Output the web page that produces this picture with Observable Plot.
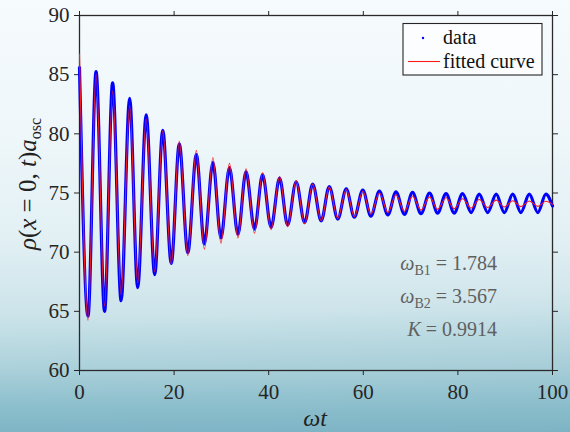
<!DOCTYPE html>
<html>
<head>
<meta charset="utf-8">
<script src="https://cdn.jsdelivr.net/npm/d3@7"></script>
<script src="https://cdn.jsdelivr.net/npm/@observablehq/plot@0.6"></script>
<style>
  html, body { margin: 0; padding: 0; }
  body {
    width: 570px; height: 432px; overflow: hidden;
    background:
      linear-gradient(176deg, rgba(255,255,255,0) 70%, rgba(120,175,192,0.35) 100%),
      linear-gradient(180deg, #f6fbfd 0%, #eff7fa 30%, #e2f0f4 55%, #cde4ea 72%, #b2d5de 85%, #92c3d0 94%, #80b7c7 100%);
  }
  #chart { position: absolute; left: 0; top: 0; }
</style>
</head>
<body>
<div id="chart"></div>
<script>
// ---- data (extrema of the oscillation) ----
const times = [0, 1.8, 3.5, 5.3, 7.0, 8.8, 10.6, 12.3, 14.1, 15.9, 17.6, 19.4, 21.1, 22.9, 24.7, 26.4, 28.2, 29.9,
  31.7, 33.5, 35.2, 37.0, 38.7, 40.5, 42.3, 44.0, 45.8, 47.6, 49.3, 51.1, 52.8, 54.6, 56.4, 58.1, 59.9, 61.6,
  63.4, 65.2, 66.9, 68.7, 70.4, 72.2, 74.0, 75.7, 77.5, 79.2, 81.0, 82.8, 84.5, 86.3, 88.1, 89.8, 91.6, 93.3,
  95.1, 96.9, 98.6, 100];
const dataValues = [85.6, 64.6, 85.25, 65.0, 84.3, 65.9, 83.0, 67.0, 81.6, 68.1, 80.3, 69.05, 79.15, 69.95, 78.25, 70.7, 77.6, 71.2,
  77.15, 71.5, 76.8, 71.95, 76.55, 72.1, 76.25, 72.3, 75.95, 72.5, 75.75, 72.65, 75.55, 72.8, 75.35, 72.95, 75.25, 73.05,
  75.15, 73.15, 75.1, 73.2, 75.05, 73.25, 75.0, 73.3, 74.95, 73.3, 74.95, 73.35, 74.9, 73.35, 74.9, 73.35, 74.9, 73.35,
  74.9, 73.35, 74.9, 73.9];
const fitValues = [86.75, 64.25, 85.05, 65.45, 83.6, 66.4, 82.4, 67.4, 81.25, 68.35, 80.25, 69.0, 79.4, 69.7, 78.6, 70.25, 78.0, 70.75,
  77.5, 71.2, 77.05, 71.6, 76.7, 71.9, 76.4, 72.15, 76.05, 72.4, 75.75, 72.65, 75.5, 72.85, 75.3, 73.0, 75.15, 73.2,
  75.0, 73.35, 74.85, 73.45, 74.75, 73.55, 74.67, 73.62, 74.6, 73.68, 74.52, 73.73, 74.45, 73.78, 74.4, 73.82, 74.35, 73.85,
  74.32, 73.87, 74.3, 74.05];
const xTicks = [0, 20, 40, 60, 80, 100];
const yTicks = [60, 65, 70, 75, 80, 85, 90];
const params = [
  {sym: "ω", sub: "B1", val: "1.784"},
  {sym: "ω", sub: "B2", val: "3.567"},
  {sym: "K", sub: "", val: "0.9914"}
];
const legendItems = ["data", "fitted curve"];

const dataSeries = times.map((t, i) => ({t, v: dataValues[i]}));
const fitSeries = times.map((t, i) => ({t, v: fitValues[i]}));

const serif = "'Liberation Serif', 'DejaVu Serif', serif";

const chart = Plot.plot({
  width: 570,
  height: 432,
  marginLeft: 79,
  marginRight: 18,
  marginTop: 15,
  marginBottom: 62,
  style: {background: "transparent", fontFamily: serif, fontSize: "20px", color: "#262626"},
  x: {domain: [0, 100], label: null},
  y: {domain: [60, 90], label: null},
  marks: [
    Plot.frame({stroke: "#2a2a2a", strokeWidth: 1.3}),
    Plot.axisX({ticks: xTicks, tickSize: 5, tickPadding: 9, label: null, fontSize: 21, fontFamily: serif, tickFormat: d => String(d)}),
    Plot.axisX({anchor: "top", ticks: xTicks, tickSize: 5, tickFormat: () => "", label: null}),
    Plot.axisY({ticks: yTicks, tickSize: 5, tickPadding: 5, label: null, fontSize: 21, fontFamily: serif, tickFormat: d => String(d)}),
    Plot.axisY({anchor: "right", ticks: yTicks, tickSize: 5, tickFormat: () => "", label: null}),
    Plot.line(dataSeries, {x: "t", y: "v", stroke: "#0000ff", strokeWidth: 3.2, curve: "monotone-x"}),
    Plot.line(fitSeries, {x: "t", y: "v", stroke: "#ff1a1a", strokeWidth: 1.1, curve: "monotone-x"})
  ]
});
document.getElementById("chart").appendChild(chart);

const svg = d3.select(chart);

// y-axis title: ρ(x = 0, t)a_osc
const yt = svg.append("text")
  .attr("transform", "translate(36,184) rotate(-90)")
  .attr("text-anchor", "middle")
  .attr("font-family", serif)
  .attr("font-size", 25)
  .attr("fill", "#222");
yt.append("tspan").attr("font-style", "italic").text("ρ");
yt.append("tspan").text("(");
yt.append("tspan").attr("font-style", "italic").text("x");
yt.append("tspan").text(" = 0, ");
yt.append("tspan").attr("font-style", "italic").text("t");
yt.append("tspan").text(")");
yt.append("tspan").attr("font-style", "italic").text("a");
yt.append("tspan").attr("font-size", 16).attr("dy", 5).text("osc");

// x-axis title: ωt
svg.append("text")
  .attr("x", 315).attr("y", 426)
  .attr("text-anchor", "middle")
  .attr("font-family", serif)
  .attr("font-size", 24)
  .attr("font-style", "italic")
  .attr("fill", "#222")
  .text("ωt");

// legend
const lg = svg.append("g");
lg.append("rect").attr("x", 403).attr("y", 23.5).attr("width", 139).attr("height", 51.5)
  .attr("fill", "#fbfdfe").attr("stroke", "#262626").attr("stroke-width", 1.1);
lg.append("circle").attr("cx", 423).attr("cy", 38).attr("r", 1.2).attr("fill", "#0000ff");
lg.append("line").attr("x1", 408).attr("x2", 440).attr("y1", 61.5).attr("y2", 61.5)
  .attr("stroke", "#ff1a1a").attr("stroke-width", 1.1);
legendItems.forEach((s, i) => {
  lg.append("text").attr("x", 443).attr("y", 43.5 + i * 24)
    .attr("text-anchor", "start")
    .attr("font-family", serif).attr("font-size", 20).attr("fill", "#111").text(s);
});

// parameter annotations
params.forEach((p, i) => {
  const t = svg.append("text")
    .attr("x", 497).attr("y", 270 + i * 33)
    .attr("text-anchor", "end")
    .attr("font-family", serif)
    .attr("font-size", 20)
    .attr("fill", "#606060");
  t.append("tspan").attr("font-style", "italic").text(p.sym);
  if (p.sub) t.append("tspan").attr("font-size", 14).attr("dy", 5).text(p.sub);
  t.append("tspan").attr("dy", p.sub ? -5 : 0).text(" = " + p.val);
});
</script>
</body>
</html>
